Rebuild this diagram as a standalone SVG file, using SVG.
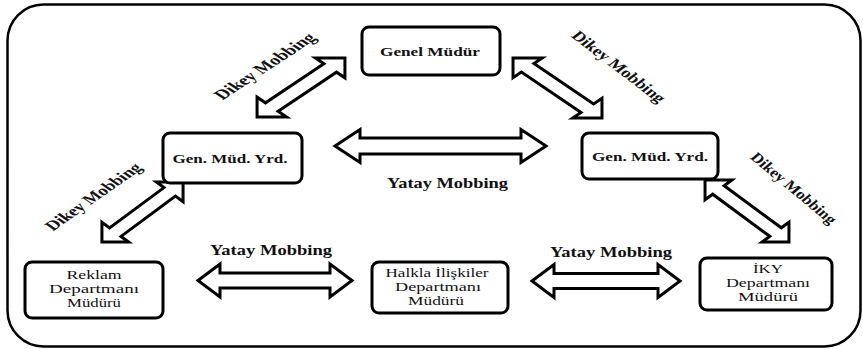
<svg xmlns="http://www.w3.org/2000/svg" width="863" height="349" viewBox="0 0 863 349">
<style>
.frame{fill:#fff;stroke:#000;stroke-width:2.5}
.box{fill:#fff;stroke:#000;stroke-width:3}
.arr{fill:#fff;stroke:#000;stroke-width:3;stroke-linejoin:miter;vector-effect:non-scaling-stroke}
text{font-family:'Liberation Serif','Times New Roman','DejaVu Serif',serif;fill:#111;text-anchor:middle}
.t{font-size:13px}
.b{font-weight:bold}
.lbl{font-size:14px;font-weight:bold}
</style>
<rect class="frame" x="7.5" y="4.5" width="853" height="342" rx="36" ry="36"/>

<g id="connectors" font-family="Liberation Serif, serif">
  <polygon class="arr" points="335,146 360,129.5 360,138 521,138 521,129.5 546,146 521,162.5 521,154 360,154 360,162.5"/>
  <polygon class="arr" points="198,280.5 220,264 220,273 330,273 330,264 352,280.5 330,297 330,288 220,288 220,297"/>
  <polygon class="arr" points="532,281 554,264.5 554,273.5 658,273.5 658,264.5 680,281 658,297.5 658,288.5 554,288.5 554,297.5"/>
  <polygon class="arr" transform="translate(301,87.5) scale(1.49,1) rotate(-45)" points="-41.7,0 -27.7,-14 -27.7,-6 27.7,-6 27.7,-14 41.7,0 27.7,14 27.7,6 -27.7,6 -27.7,14"/>
  <polygon class="arr" transform="translate(557.5,88) scale(1.48,1) rotate(45)" points="-42.5,0 -28.5,-14 -28.5,-6 28.5,-6 28.5,-14 42.5,0 28.5,14 28.5,6 -28.5,6 -28.5,14"/>
  <polygon class="arr" transform="translate(142.5,212) scale(1.35,1) rotate(-45)" points="-42.5,0 -28.5,-14 -28.5,-6 28.5,-6 28.5,-14 42.5,0 28.5,14 28.5,6 -28.5,6 -28.5,14"/>
  <polygon class="arr" transform="translate(747,211) scale(1.355,1) rotate(45)" points="-43.8,0 -29.8,-14 -29.8,-6 29.8,-6 29.8,-14 43.8,0 29.8,14 29.8,6 -29.8,6 -29.8,14"/>
  <text class="lbl" transform="translate(264.5,66) scale(1.53,1) rotate(-45)" dy="0.35em" textLength="87.5" lengthAdjust="spacingAndGlyphs">Dikey Mobbing</text>
  <text class="lbl" transform="translate(619,66.5) scale(1.31,1) rotate(45)" dy="0.35em" textLength="95" lengthAdjust="spacingAndGlyphs">Dikey Mobbing</text>
  <text class="lbl" transform="translate(93,196.5) scale(1.43,1) rotate(-45)" dy="0.35em" textLength="89" lengthAdjust="spacingAndGlyphs">Dikey Mobbing</text>
  <text class="lbl" transform="translate(794,188) scale(1.2,1) rotate(45)" dy="0.35em" textLength="95" lengthAdjust="spacingAndGlyphs">Dikey Mobbing</text>
  <text class="lbl" x="447.5" y="188" textLength="121" lengthAdjust="spacingAndGlyphs">Yatay Mobbing</text>
  <text class="lbl" x="271" y="255" textLength="122" lengthAdjust="spacingAndGlyphs">Yatay Mobbing</text>
  <text class="lbl" x="611" y="257" textLength="122" lengthAdjust="spacingAndGlyphs">Yatay Mobbing</text>
</g>

<g id="genel-mudur">
  <rect class="box" x="362" y="27" width="138" height="48" rx="7"/>
  <text class="t b" x="430" y="56" textLength="100" lengthAdjust="spacingAndGlyphs">Genel Müdür</text>
</g>
<g id="gmy-left">
  <rect class="box" x="163" y="133" width="139" height="50" rx="7"/>
  <text class="t b" x="230" y="163" textLength="115" lengthAdjust="spacingAndGlyphs">Gen. Müd. Yrd.</text>
</g>
<g id="gmy-right">
  <rect class="box" x="582" y="133" width="136" height="46" rx="7"/>
  <text class="t b" x="650" y="161" textLength="116" lengthAdjust="spacingAndGlyphs">Gen. Müd. Yrd.</text>
</g>
<g id="reklam">
  <rect class="box" x="25" y="262" width="138" height="56" rx="7"/>
  <text class="t" x="94" y="279" textLength="55" lengthAdjust="spacingAndGlyphs">Reklam</text>
  <text class="t" x="94" y="293" textLength="90" lengthAdjust="spacingAndGlyphs">Departmanı</text>
  <text class="t" x="94" y="307" textLength="54" lengthAdjust="spacingAndGlyphs">Müdürü</text>
</g>
<g id="halkla">
  <rect class="box" x="372" y="262" width="136" height="51" rx="7"/>
  <text class="t" x="437" y="277" textLength="103" lengthAdjust="spacingAndGlyphs">Halkla  İlişkiler</text>
  <text class="t" x="438" y="291" textLength="86" lengthAdjust="spacingAndGlyphs">Departmanı</text>
  <text class="t" x="436" y="304.5" textLength="56" lengthAdjust="spacingAndGlyphs">Müdürü</text>
</g>
<g id="iky">
  <rect class="box" x="700" y="258" width="132" height="52" rx="7"/>
  <text class="t" x="768" y="273" textLength="30" lengthAdjust="spacingAndGlyphs">İKY</text>
  <text class="t" x="768" y="287" textLength="84" lengthAdjust="spacingAndGlyphs">Departmanı</text>
  <text class="t" x="768" y="300.5" textLength="60" lengthAdjust="spacingAndGlyphs">Müdürü</text>
</g>
</svg>
